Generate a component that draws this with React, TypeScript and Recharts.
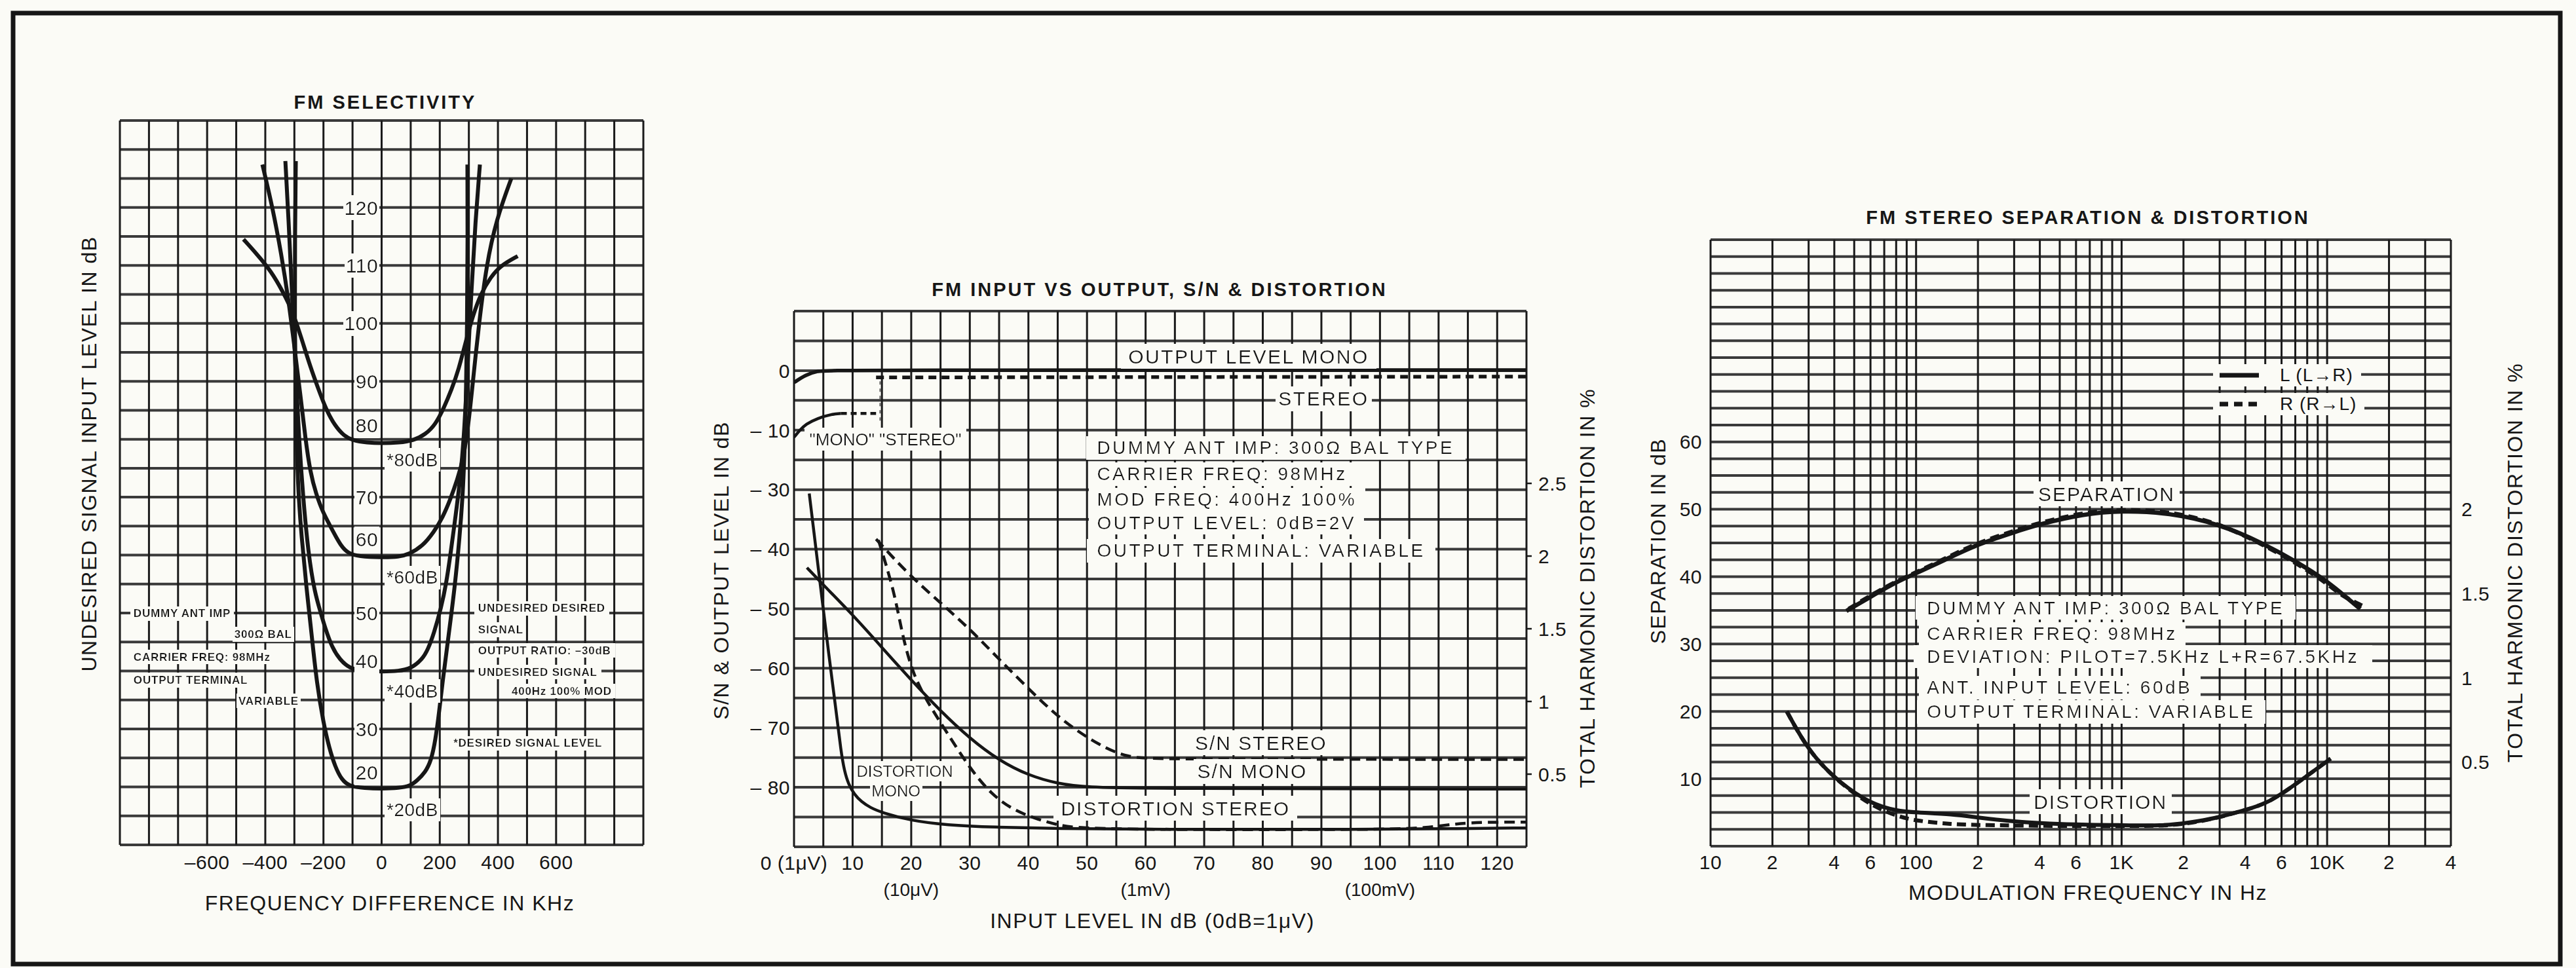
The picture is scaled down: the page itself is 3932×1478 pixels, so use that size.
import React from 'react'
import { LineChart, Line, XAxis, YAxis, CartesianGrid, ReferenceDot, Legend } from 'recharts'

const BG = '#fbfbf6'
const INK = '#161616'
const GRID_H = '#3a3a3a'
const GRID_V = '#1a1a1a'
const FONT = '"Liberation Sans", Arial, Helvetica, sans-serif'

// ---------- FM selectivity: kHz vs dB ----------
const selGridX = [-900, -800, -700, -600, -500, -400, -300, -200, -100, 0, 100, 200, 300, 400, 500, 600, 700, 800, 900]
const selLabelX = [-600, -400, -200, 0, 200, 400, 600]
const selGridY = [10, 15, 20, 25, 30, 35, 40, 45, 50, 55, 60, 65, 70, 75, 80, 85, 90, 95, 100, 105, 110, 115, 120, 125, 130, 135]
const selLevels = [120, 110, 100, 90, 80, 70, 60, 50, 40, 30, 20]

const sel80 = [[-475, 114.5], [-430, 112], [-380, 109], [-340, 105.5], [-305, 102], [-270, 96.5], [-245, 92.5], [-220, 89], [-190, 85], [-160, 82.3], [-130, 80.6], [-100, 79.8], [-50, 79.4], [0, 79.3], [60, 79.4], [110, 79.8], [150, 80.8], [185, 82.5], [215, 85.5], [240, 88.5], [265, 92], [290, 97], [315, 101.5], [340, 105], [375, 108], [410, 110], [468, 111.6]]
const sel60 = [[-410, 127.4], [-375, 120], [-345, 112], [-320, 104], [-300, 96], [-280, 88], [-262, 80], [-245, 74.2], [-225, 70.5], [-205, 67.8], [-185, 65.8], [-165, 63.9], [-140, 61.6], [-115, 60.3], [-80, 59.8], [0, 59.6], [60, 59.7], [95, 60.2], [140, 61.5], [180, 64], [210, 66.5], [237, 69.7], [260, 73], [281, 76.5], [300, 83], [318, 92], [335, 100], [360, 110], [395, 118], [446, 125]]
const sel40 = [[-331, 128], [-320, 118], [-308, 105], [-296, 92], [-284, 80], [-270, 70], [-252, 60.2], [-230, 53.5], [-209, 50], [-194, 47.4], [-170, 44], [-144, 42], [-110, 40.4], [-60, 40], [0, 39.9], [60, 40], [100, 40.4], [140, 42], [160, 43.8], [180, 46.5], [205, 51], [222, 55], [237, 60.2], [255, 67], [270, 73], [283, 80], [295, 92], [308, 105], [323, 118], [338, 127.4]]
const sel20 = [[-295, 128], [-298, 115], [-299, 100], [-295, 85], [-288, 71.4], [-275, 63], [-259, 54.6], [-240, 46], [-223, 37.9], [-200, 31], [-180, 26.7], [-160, 23.5], [-137, 21.2], [-110, 20.1], [-60, 19.8], [0, 19.7], [60, 19.8], [100, 20.2], [122, 21.1], [150, 22.5], [170, 24.5], [185, 28], [198, 33], [209, 37.9], [230, 46], [252, 54.6], [268, 63], [281, 71.4], [290, 85], [294, 100], [296, 115], [295, 127.4]]

// ---------- FM input vs output: input dB vs output/S-N dB (left) and THD % (right) ----------
const ioGridX = [0, 5, 10, 15, 20, 25, 30, 35, 40, 45, 50, 55, 60, 65, 70, 75, 80, 85, 90, 95, 100, 105, 110, 115, 120, 125]
const ioLabelX = [0, 10, 20, 30, 40, 50, 60, 70, 80, 90, 100, 110, 120]
const ioSubX = [20, 60, 100]
const ioSubText = ['(10μV)', '(1mV)', '(100mV)']
// the printed scale skips -20: -30 sits one step below -10
const ioGridY = [-80, -75, -70, -65, -60, -55, -50, -45, -40, -35, -30, -25, -20, -15, -10, -5, 0, 5, 10]
const ioLevels = [0, -10, -30, -40, -50, -60, -70, -80]
const ioThdTicks = [0.5, 1, 1.5, 2, 2.5]

const outMono = [[0, -2], [2, -0.7], [4, -0.05], [6, 0.1], [125, 0.1]]
const outStereo = [[14, -1.15], [125, -1.0]]
const stereoSwitch = [[14.7, -1.8], [14.7, -8.7]]
const lowMono = [[0, -11.2], [1, -10], [2, -9], [4, -8], [6.5, -7.3], [8, -7.2]]
const lowStereo = [[8, -7.2], [14, -7.2]]
const snMono = [[2.2, -43.1], [5, -46], [10, -51], [15, -56.5], [20, -62], [25, -67.2], [30, -71.8], [35, -75.5], [40, -78], [45, -79.4], [50, -80], [60, -80.2], [125, -80.3]]
const snStereo = [[14, -38.3], [19.5, -44.2], [25, -49], [30, -53.4], [35, -58.5], [41.2, -64.6], [46, -69], [52.3, -73.1], [57, -75], [62, -75.3], [125, -75.3]]
const thdMono = [[2.6, 2.43], [4.4, 1.83], [6, 1.3], [7.2, 0.93], [8, 0.66], [8.6, 0.52], [9.3, 0.43], [10.3, 0.36], [11.5, 0.31], [13, 0.27], [15, 0.235], [20, 0.18], [26, 0.15], [34, 0.135], [45, 0.125], [60, 0.12], [100, 0.12], [112, 0.125], [125, 0.13]]
const thdStereo = [[14.4, 2.11], [17.1, 1.76], [18.4, 1.47], [20.3, 1.18], [23.3, 0.96], [26.2, 0.78], [30, 0.54], [33.7, 0.36], [37.4, 0.254], [41.2, 0.194], [45, 0.15], [48, 0.13], [60, 0.118], [100, 0.118], [108, 0.13], [113, 0.16], [118, 0.17], [125, 0.17]]

// ---------- FM stereo separation & distortion: Hz (log) vs dB / THD % ----------
const sepGridX = [10, 20, 30, 40, 50, 60, 70, 80, 90, 100, 200, 300, 400, 500, 600, 700, 800, 900, 1000, 2000, 3000, 4000, 5000, 6000, 7000, 8000, 9000, 10000, 20000, 30000, 40000]
const sepLabelX = [10, 20, 40, 60, 100, 200, 400, 600, 1000, 2000, 4000, 6000, 10000, 20000, 40000]
const sepLabelText = ['10', '2', '4', '6', '100', '2', '4', '6', '1K', '2', '4', '6', '10K', '2', '4']
const sepGridY = [0, 2.5, 5, 7.5, 10, 12.5, 15, 17.5, 20, 22.5, 25, 27.5, 30, 32.5, 35, 37.5, 40, 42.5, 45, 47.5, 50, 52.5, 55, 57.5, 60, 62.5, 65, 67.5, 70, 72.5, 75, 77.5, 80, 82.5, 85, 87.5, 90]
const sepLevels = [10, 20, 30, 40, 50, 60]
const sepThdTicks = [0.5, 1, 1.5, 2]
const sepLegendLabels = ['L (L→R)', 'R (R→L)']

const sepL = [[45.8, 34.9], [60, 37], [80, 39.2], [100, 40.5], [150, 43], [200, 44.8], [300, 46.6], [400, 47.8], [650, 49.3], [1000, 49.8], [1700, 49.5], [3000, 47.8], [4850, 45], [7300, 42], [10000, 39.3], [12000, 37.3], [14500, 35.2]]
const sepR = [[47, 35.2], [60, 37.2], [80, 39.3], [100, 40.6], [150, 43.2], [200, 45], [300, 46.8], [400, 48], [650, 49.5], [1000, 50], [1700, 49.7], [3000, 47.9], [4850, 44.8], [7300, 41.8], [10000, 39], [12000, 37], [15000, 35.6]]
const thdL = [[23.5, 0.8], [30.4, 0.55], [43, 0.37], [60.7, 0.25], [80, 0.21], [100, 0.2], [150, 0.19], [200, 0.17], [300, 0.145], [500, 0.13], [1000, 0.125], [1580, 0.12], [2140, 0.14], [2880, 0.166], [3870, 0.21], [5200, 0.255], [7450, 0.39], [10400, 0.52]]
const thdR = [[23.5, 0.8], [30.4, 0.55], [43, 0.37], [60.7, 0.24], [80, 0.18], [100, 0.15], [150, 0.13], [200, 0.125], [500, 0.12], [1000, 0.12], [1580, 0.12], [2140, 0.135], [2880, 0.166], [3870, 0.21], [5200, 0.255], [7450, 0.39], [10400, 0.52]]

const pts = (d: number[][]) => d.map(([x, y]) => ({ x, y }))
const brk = (v: number) => (v <= -30 ? v + 10 : v)
const ptsBrk = (d: number[][]) => d.map(([x, y]) => ({ x, y: brk(y) }))
const signed = (v: number) => (v < 0 ? '\u2013' + Math.abs(v) : String(v))

const makeTick = (fmt: (v: number) => string, anchor: 'start' | 'middle' | 'end') => (p: any) => {
  const s = fmt(p.payload.value)
  if (!s) return <g />
  return (
    <text x={p.x} y={p.y} dy="0.36em" textAnchor={anchor} fontSize={30} fontFamily={FONT} letterSpacing={0.5} fill={INK}>
      {s}
    </text>
  )
}
const noTick = () => <g />

const ioTick = (p: any) => {
  const v = p.payload.value
  if (!ioLabelX.includes(v)) return <g />
  const i = ioSubX.indexOf(v)
  return (
    <g fontFamily={FONT} fill={INK}>
      <text x={p.x} y={p.y} dy="0.36em" textAnchor="middle" fontSize={30} letterSpacing={0.5}>{v === 0 ? '0 (1μV)' : v}</text>
      {i >= 0 && <text x={p.x} y={p.y + 41} dy="0.36em" textAnchor="middle" fontSize={28}>{ioSubText[i]}</text>}
    </g>
  )
}

// text on a paper-coloured box, so grid lines stop at the label like in print
const NoteText = (p: any) => {
  const vb = p.viewBox || {}
  const x = (vb.x ?? 0) + (vb.width ?? 0) / 2
  const y = (vb.y ?? 0) + (vb.height ?? 0) / 2
  return (
    <text x={x} y={y} dy="0.36em" textAnchor={p.anchor} fontSize={p.size} fontWeight={p.weight} fontFamily={FONT}
      letterSpacing={p.ls} fill={INK} filter="url(#paperbox)">
      {p.text}
    </text>
  )
}

type NoteOpt = { anchor?: 'start' | 'middle' | 'end'; size?: number; weight?: number; ls?: number; axis?: string | number }
const note = (key: string, x: number, y: number, text: string, o: NoteOpt = {}) => (
  <ReferenceDot key={key} x={x} y={y} r={0} yAxisId={o.axis ?? 0} fill="none" stroke="none" ifOverflow="visible"
    label={<NoteText text={text} anchor={o.anchor ?? 'middle'} size={o.size ?? 30} weight={o.weight ?? 400} ls={o.ls ?? 2} />} />
)

const curve = (key: string, data: any[], width: number, extra: any = {}) => (
  <Line key={key} data={data} dataKey="y" type="basis" stroke={INK} strokeWidth={width} dot={false} activeDot={false}
    isAnimationActive={false} legendType="none" {...extra} />
)

const levelLift: Record<number, number> = { 80: 2.4, 60: 2.8, 40: 1.7, 20: 2.5 }
const small = { size: 17, weight: 700, ls: 0.8 }

const Selectivity = () => (
  <LineChart width={1000} height={1478} margin={{ top: 184, right: 18, bottom: 187, left: 182 }}>
    <CartesianGrid vertical={false} stroke={GRID_H} strokeWidth={4} />
    <CartesianGrid horizontal={false} stroke={GRID_V} strokeWidth={3} />
    <XAxis dataKey="x" type="number" domain={[-900, 900]} ticks={selGridX} interval={0} height={1} axisLine={false}
      tickLine={false} tickSize={0} tickMargin={26} allowDataOverflow
      tick={makeTick((v) => (selLabelX.includes(v) ? signed(v) : ''), 'middle')} />
    <YAxis type="number" domain={[10, 135]} ticks={selGridY} interval={0} width={1} axisLine={false} tickLine={false}
      tick={noTick} allowDataOverflow />
    {selLevels.map((v) => note('lv' + v, -12, v + (levelLift[v] ?? 0), String(v), { anchor: 'end', ls: 0.5 }))}
    {note('d80', 17, 76.5, '*80dB', { anchor: 'start', size: 28, ls: 0.5 })}
    {note('d60', 17, 56.2, '*60dB', { anchor: 'start', size: 28, ls: 0.5 })}
    {note('d40', 17, 36.6, '*40dB', { anchor: 'start', size: 28, ls: 0.5 })}
    {note('d20', 17, 16.1, '*20dB', { anchor: 'start', size: 28, ls: 0.5 })}
    {note('a1', -853, 50.0, 'DUMMY ANT IMP', { anchor: 'start', ...small })}
    {note('a2', -308, 46.4, '300Ω BAL', { anchor: 'end', ...small })}
    {note('a3', -853, 42.5, 'CARRIER FREQ: 98MHz', { anchor: 'start', ...small })}
    {note('a4', -853, 38.5, 'OUTPUT TERMINAL', { anchor: 'start', ...small })}
    {note('a5', -285, 34.9, 'VARIABLE', { anchor: 'end', ...small })}
    {note('b1', 332, 50.9, 'UNDESIRED DESIRED', { anchor: 'start', ...small })}
    {note('b2', 332, 47.2, 'SIGNAL', { anchor: 'start', ...small })}
    {note('b3', 332, 43.6, 'OUTPUT RATIO: \u201330dB', { anchor: 'start', ...small })}
    {note('b4', 332, 39.9, 'UNDESIRED SIGNAL', { anchor: 'start', ...small })}
    {note('b5', 447, 36.6, '400Hz 100% MOD', { anchor: 'start', ...small })}
    {note('b6', 247, 27.6, '*DESIRED SIGNAL LEVEL', { anchor: 'start', ...small })}
    {curve('s80', pts(sel80), 6)}
    {curve('s60', pts(sel60), 6)}
    {curve('s40', pts(sel40), 6)}
    {curve('s20', pts(sel20), 6)}
  </LineChart>
)

const InputOutput = () => (
  <LineChart width={1500} height={1178} margin={{ top: 175, right: 169, bottom: 184, left: 211 }}>
    <CartesianGrid vertical={false} stroke={GRID_H} strokeWidth={4} />
    <CartesianGrid horizontal={false} stroke={GRID_V} strokeWidth={3} />
    <XAxis dataKey="x" type="number" domain={[0, 125]} ticks={ioGridX} interval={0} height={1} axisLine={false}
      tickLine={false} tickSize={0} tickMargin={24} allowDataOverflow tick={ioTick} />
    <YAxis type="number" domain={[-80, 10]} ticks={ioGridY} interval={0} width={1} axisLine={false} tickLine={false}
      tickSize={0} tickMargin={6} allowDataOverflow
      tick={makeTick((pos) => {
        const v = ioLevels.find((l) => brk(l) === pos)
        return v === undefined ? '' : v === 0 ? '0' : '\u2013 ' + Math.abs(v)
      }, 'end')} />
    <YAxis yAxisId="thd" orientation="right" type="number" domain={[0, 3.685]} ticks={ioThdTicks} interval={0} width={1}
      axisLine={false} tickLine={{ stroke: INK, strokeWidth: 2.5 }} tickSize={8} tickMargin={10} allowDataOverflow
      tick={makeTick((v) => String(v), 'start')} />
    {note('om', 77.6, 2.4, 'OUTPUT LEVEL MONO', { ls: 2.5 })}
    {note('st', 90.4, -4.7, 'STEREO', { ls: 2.5 })}
    {note('ms', 15.6, -11.5, '"MONO" "STEREO"', { size: 26, ls: 0 })}
    {note('i1', 51.7, -12.9, 'DUMMY ANT IMP: 300Ω BAL TYPE', { anchor: 'start', size: 28, ls: 3.5 })}
    {note('i2', 51.7, -17.3, 'CARRIER FREQ: 98MHz', { anchor: 'start', size: 28, ls: 3.5 })}
    {note('i3', 51.7, -21.6, 'MOD FREQ: 400Hz 100%', { anchor: 'start', size: 28, ls: 3.5 })}
    {note('i4', 51.7, -25.5, 'OUTPUT LEVEL: 0dB=2V', { anchor: 'start', size: 28, ls: 3.5 })}
    {note('i5', 51.7, -30.2, 'OUTPUT TERMINAL: VARIABLE', { anchor: 'start', size: 28, ls: 3.5 })}
    {note('sns', 79.7, -62.5, 'S/N STEREO')}
    {note('snm', 78.2, -67.3, 'S/N MONO')}
    {note('ds', 65.1, -73.5, 'DISTORTION STEREO')}
    {note('dm1', 18.9, -67.3, 'DISTORTION', { size: 24, ls: 0 })}
    {note('dm2', 17.4, -70.6, 'MONO', { size: 24, ls: 0 })}
    {curve('om', pts(outMono), 5.5)}
    {curve('os', pts(outStereo), 5.5, { strokeDasharray: '12 8' })}
    {curve('sw', pts(stereoSwitch), 2, { strokeDasharray: '5 6', stroke: '#555' })}
    {curve('lm', pts(lowMono), 4.5)}
    {curve('ls', pts(lowStereo), 4.5, { strokeDasharray: '9 6' })}
    {curve('snm', ptsBrk(snMono), 4.5)}
    {curve('sns', ptsBrk(snStereo), 4.5, { strokeDasharray: '16 9' })}
    {curve('tm', pts(thdMono), 4.5, { yAxisId: 'thd' })}
    {curve('ts', pts(thdStereo), 4.5, { yAxisId: 'thd', strokeDasharray: '16 9' })}
  </LineChart>
)

const Separation = () => (
  <LineChart width={1432} height={1278} margin={{ top: 166, right: 190, bottom: 185, left: 110 }}>
    <CartesianGrid vertical={false} stroke={GRID_H} strokeWidth={4} />
    <CartesianGrid horizontal={false} stroke={GRID_V} strokeWidth={3} />
    <XAxis dataKey="x" type="number" scale="log" domain={[10, 40000]} ticks={sepGridX} interval={0} height={1}
      axisLine={false} tickLine={false} tickSize={0} tickMargin={24} allowDataOverflow
      tick={makeTick((v) => {
        const i = sepLabelX.indexOf(v)
        return i < 0 ? '' : sepLabelText[i]
      }, 'middle')} />
    <YAxis type="number" domain={[0, 90]} ticks={sepGridY} interval={0} width={1} axisLine={false} tickLine={false}
      tickSize={0} tickMargin={13} allowDataOverflow
      tick={makeTick((v) => (sepLevels.includes(v) ? String(v) : ''), 'end')} />
    <YAxis yAxisId="thd" orientation="right" type="number" domain={[0, 3.6]} ticks={sepThdTicks} interval={0} width={1}
      axisLine={false} tickLine={false} tickSize={0} tickMargin={16} allowDataOverflow
      tick={makeTick((v) => String(v), 'start')} />
    <Legend layout="vertical" align="center" verticalAlign="middle" wrapperStyle={{ left: 878, top: 351, width: 'auto' }}
      content={() => (
        <div style={{ fontFamily: FONT, fontSize: 28, letterSpacing: 1, color: INK }}>
          {sepLegendLabels.map((t, i) => (
            <div key={t} style={{ display: 'flex', alignItems: 'center', height: 44 }}>
              <div style={{ background: BG, padding: '0 8px', display: 'flex', alignItems: 'center', height: 34 }}>
                <svg width={64} height={12}>
                  <line x1={2} y1={6} x2={62} y2={6} stroke={INK} strokeWidth={7} strokeDasharray={i ? '13 9' : undefined} />
                </svg>
                <span style={{ marginLeft: 30, paddingRight: 4 }}>{t}</span>
              </div>
            </div>
          ))}
        </div>
      )} />
    {note('sep', 845, 52.3, 'SEPARATION')}
    {note('dis', 789, 6.6, 'DISTORTION')}
    {note('r1', 113, 35.4, 'DUMMY ANT IMP: 300Ω BAL TYPE', { anchor: 'start', size: 28, ls: 3.5 })}
    {note('r2', 113, 31.6, 'CARRIER FREQ: 98MHz', { anchor: 'start', size: 28, ls: 3.5 })}
    {note('r3', 113, 28.2, 'DEVIATION: PILOT=7.5KHz L+R=67.5KHz', { anchor: 'start', size: 28, ls: 3.5 })}
    {note('r4', 113, 23.6, 'ANT. INPUT LEVEL: 60dB', { anchor: 'start', size: 28, ls: 3.5 })}
    {note('r5', 113, 20.0, 'OUTPUT TERMINAL: VARIABLE', { anchor: 'start', size: 28, ls: 3.5 })}
    {curve('sl', pts(sepL), 6.5, { name: sepLegendLabels[0] })}
    {curve('sr', pts(sepR), 6.5, { name: sepLegendLabels[1], strokeDasharray: '14 8' })}
    {curve('tl', pts(thdL), 6, { yAxisId: 'thd' })}
    {curve('tr', pts(thdR), 6, { yAxisId: 'thd', strokeDasharray: '14 8' })}
  </LineChart>
)

const T = (p: { x: number; y: number; size?: number; bold?: boolean; rot?: boolean; ls?: number; children: React.ReactNode }) => (
  <text x={p.x} y={p.y} dy="0.36em" textAnchor="middle" fontFamily={FONT} fontSize={p.size ?? 32}
    fontWeight={p.bold ? 700 : 400} letterSpacing={p.ls ?? 1.5} fill={INK}
    transform={p.rot ? `rotate(-90 ${p.x} ${p.y})` : undefined}>
    {p.children}
  </text>
)

export default function App() {
  return (
    <div style={{ position: 'absolute', left: 0, top: 0, width: 3932, height: 1478, background: BG, overflow: 'hidden' }}>
      <svg width={3932} height={1478} style={{ position: 'absolute', left: 0, top: 0 }}>
        <defs>
          <filter id="paperbox" x="-0.03" y="-0.06" width="1.06" height="1.12">
            <feFlood floodColor={BG} result="bg" />
            <feMerge>
              <feMergeNode in="bg" />
              <feMergeNode in="SourceGraphic" />
            </feMerge>
          </filter>
        </defs>
        <rect x={20} y={20} width={3888} height={1452} fill="none" stroke={INK} strokeWidth={7} />
        <T x={588} y={156} size={29} bold ls={3}>FM SELECTIVITY</T>
        <T x={1770} y={442} size={29} bold ls={3}>FM INPUT VS OUTPUT, S/N &amp; DISTORTION</T>
        <T x={3187} y={332} size={29} bold ls={3}>FM STEREO SEPARATION &amp; DISTORTION</T>
        <T x={135} y={693} rot>UNDESIRED SIGNAL INPUT LEVEL IN dB</T>
        <T x={595} y={1378}>FREQUENCY DIFFERENCE IN KHz</T>
        <T x={1100} y={871} rot>S/N &amp; OUTPUT LEVEL IN dB</T>
        <T x={2422} y={898} rot>TOTAL HARMONIC DISTORTION IN %</T>
        <T x={1759} y={1405}>INPUT LEVEL IN dB (0dB=1μV)</T>
        <T x={2530} y={826} rot>SEPARATION IN dB</T>
        <T x={3838} y={859} rot>TOTAL HARMONIC DISTORTION IN %</T>
        <T x={3187} y={1362}>MODULATION FREQUENCY IN Hz</T>
      </svg>
      <div style={{ position: 'absolute', left: 0, top: 0 }}>
        <Selectivity />
      </div>
      <div style={{ position: 'absolute', left: 1000, top: 300 }}>
        <InputOutput />
      </div>
      <div style={{ position: 'absolute', left: 2500, top: 200 }}>
        <Separation />
      </div>
    </div>
  )
}
